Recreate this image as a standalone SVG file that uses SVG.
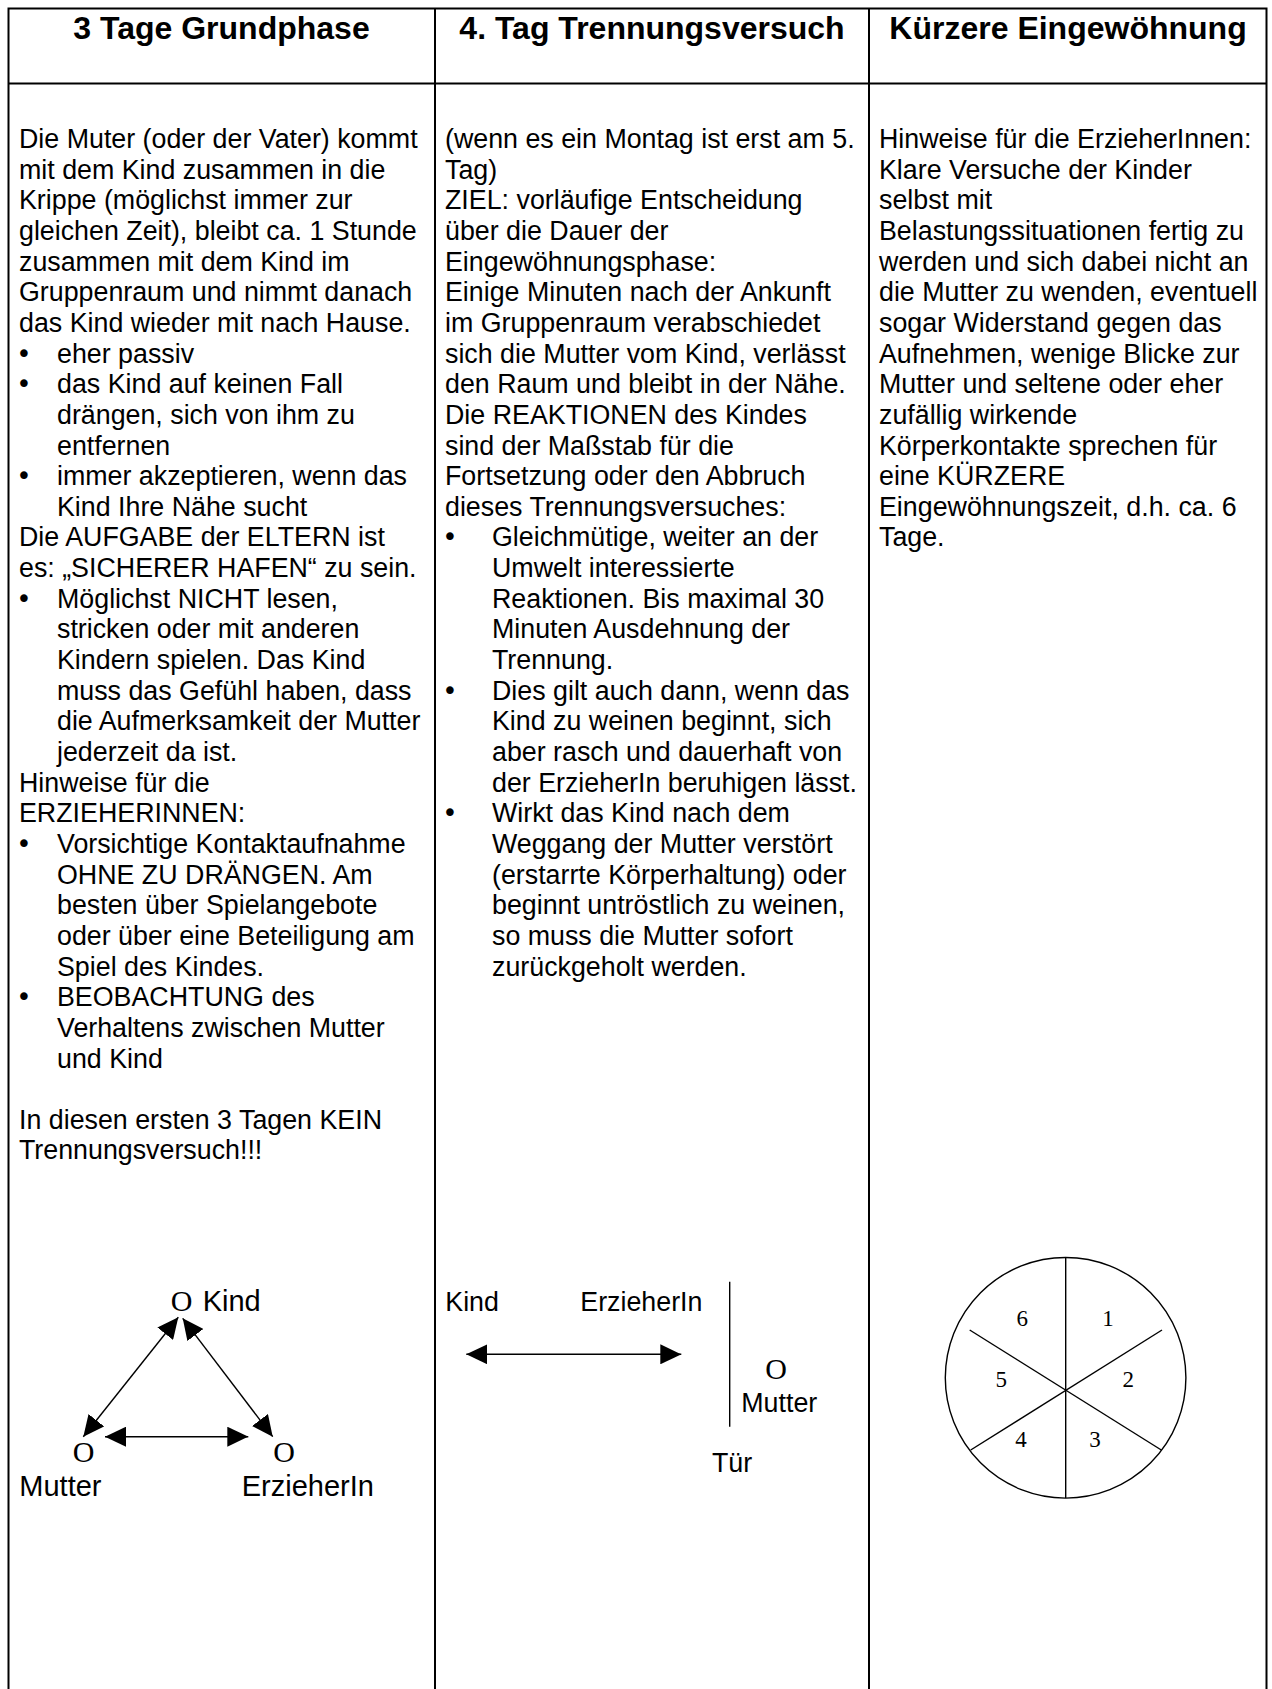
<svg xmlns="http://www.w3.org/2000/svg" width="1272" height="1689" viewBox="0 0 1272 1689">
<style>
.grid{stroke:#000;stroke-width:2;fill:none}
.t{font-family:"Liberation Sans",Arial,sans-serif;font-size:26.8px;fill:#000}
.h{font-family:"Liberation Sans",Arial,sans-serif;font-size:32px;font-weight:bold;fill:#000;text-anchor:middle}
.b{font-family:"DejaVu Sans",sans-serif;font-size:26px;fill:#000;text-anchor:middle}
.d{font-family:"Liberation Sans",Arial,sans-serif;font-size:29px;fill:#000}
.o{font-family:"Liberation Serif","Times New Roman",serif;font-size:30px;fill:#000}
.n{font-family:"Liberation Serif","Times New Roman",serif;font-size:23px;fill:#000;text-anchor:middle}
.ln{stroke:#000;stroke-width:1.4;fill:none}
</style>
<defs>
<marker id="ah" viewBox="0 0 21 20" refX="21" refY="10" markerWidth="21" markerHeight="20" markerUnits="userSpaceOnUse" orient="auto-start-reverse">
<path d="M0,0 L21,10 L0,20 z" fill="#000"/>
</marker>
</defs>
<rect width="1272" height="1689" fill="#fff"/>

<g id="table">
<path class="grid" d="M8.5,1689 V8.5 H1266.5 V1689 M435,8.5 V1689 M869,8.5 V1689 M8.5,83.5 H1266.5"/>
</g>

<g id="headers">
<text class="h" x="221.5" y="39">3 Tage Grundphase</text>
<text class="h" x="652" y="39">4. Tag Trennungsversuch</text>
<text class="h" x="1068" y="39">Kürzere Eingewöhnung</text>
</g>

<g id="col1">
<text class="t" x="19" y="148">Die Muter (oder der Vater) kommt</text>
<text class="t" x="19" y="178.65">mit dem Kind zusammen in die</text>
<text class="t" x="19" y="209.3">Krippe (möglichst immer zur</text>
<text class="t" x="19" y="239.95">gleichen Zeit), bleibt ca. 1 Stunde</text>
<text class="t" x="19" y="270.6">zusammen mit dem Kind im</text>
<text class="t" x="19" y="301.25">Gruppenraum und nimmt danach</text>
<text class="t" x="19" y="331.9">das Kind wieder mit nach Hause.</text>
<text class="b" x="24" y="362.55">•</text><text class="t" x="57" y="362.55">eher passiv</text>
<text class="b" x="24" y="393.2">•</text><text class="t" x="57" y="393.2">das Kind auf keinen Fall</text>
<text class="t" x="57" y="423.85">drängen, sich von ihm zu</text>
<text class="t" x="57" y="454.5">entfernen</text>
<text class="b" x="24" y="485.15">•</text><text class="t" x="57" y="485.15">immer akzeptieren, wenn das</text>
<text class="t" x="57" y="515.8">Kind Ihre Nähe sucht</text>
<text class="t" x="19" y="546.45">Die AUFGABE der ELTERN ist</text>
<text class="t" x="19" y="577.1">es: „SICHERER HAFEN“ zu sein.</text>
<text class="b" x="24" y="607.75">•</text><text class="t" x="57" y="607.75">Möglichst NICHT lesen,</text>
<text class="t" x="57" y="638.4">stricken oder mit anderen</text>
<text class="t" x="57" y="669.05">Kindern spielen. Das Kind</text>
<text class="t" x="57" y="699.7">muss das Gefühl haben, dass</text>
<text class="t" x="57" y="730.35">die Aufmerksamkeit der Mutter</text>
<text class="t" x="57" y="761">jederzeit da ist.</text>
<text class="t" x="19" y="791.65">Hinweise für die</text>
<text class="t" x="19" y="822.3">ERZIEHERINNEN:</text>
<text class="b" x="24" y="852.95">•</text><text class="t" x="57" y="852.95">Vorsichtige Kontaktaufnahme</text>
<text class="t" x="57" y="883.6">OHNE ZU DRÄNGEN. Am</text>
<text class="t" x="57" y="914.25">besten über Spielangebote</text>
<text class="t" x="57" y="944.9">oder über eine Beteiligung am</text>
<text class="t" x="57" y="975.55">Spiel des Kindes.</text>
<text class="b" x="24" y="1006.2">•</text><text class="t" x="57" y="1006.2">BEOBACHTUNG des</text>
<text class="t" x="57" y="1036.85">Verhaltens zwischen Mutter</text>
<text class="t" x="57" y="1067.5">und Kind</text>
<text class="t" x="19" y="1128.8">In diesen ersten 3 Tagen KEIN</text>
<text class="t" x="19" y="1159.45">Trennungsversuch!!!</text>
</g>

<g id="col2">
<text class="t" x="445" y="148">(wenn es ein Montag ist erst am 5.</text>
<text class="t" x="445" y="178.65">Tag)</text>
<text class="t" x="445" y="209.3">ZIEL: vorläufige Entscheidung</text>
<text class="t" x="445" y="239.95">über die Dauer der</text>
<text class="t" x="445" y="270.6">Eingewöhnungsphase:</text>
<text class="t" x="445" y="301.25">Einige Minuten nach der Ankunft</text>
<text class="t" x="445" y="331.9">im Gruppenraum verabschiedet</text>
<text class="t" x="445" y="362.55">sich die Mutter vom Kind, verlässt</text>
<text class="t" x="445" y="393.2">den Raum und bleibt in der Nähe.</text>
<text class="t" x="445" y="423.85">Die REAKTIONEN des Kindes</text>
<text class="t" x="445" y="454.5">sind der Maßstab für die</text>
<text class="t" x="445" y="485.15">Fortsetzung oder den Abbruch</text>
<text class="t" x="445" y="515.8">dieses Trennungsversuches:</text>
<text class="b" x="450" y="546.45">•</text><text class="t" x="492" y="546.45">Gleichmütige, weiter an der</text>
<text class="t" x="492" y="577.1">Umwelt interessierte</text>
<text class="t" x="492" y="607.75">Reaktionen. Bis maximal 30</text>
<text class="t" x="492" y="638.4">Minuten Ausdehnung der</text>
<text class="t" x="492" y="669.05">Trennung.</text>
<text class="b" x="450" y="699.7">•</text><text class="t" x="492" y="699.7">Dies gilt auch dann, wenn das</text>
<text class="t" x="492" y="730.35">Kind zu weinen beginnt, sich</text>
<text class="t" x="492" y="761">aber rasch und dauerhaft von</text>
<text class="t" x="492" y="791.65">der ErzieherIn beruhigen lässt.</text>
<text class="b" x="450" y="822.3">•</text><text class="t" x="492" y="822.3">Wirkt das Kind nach dem</text>
<text class="t" x="492" y="852.95">Weggang der Mutter verstört</text>
<text class="t" x="492" y="883.6">(erstarrte Körperhaltung) oder</text>
<text class="t" x="492" y="914.25">beginnt untröstlich zu weinen,</text>
<text class="t" x="492" y="944.9">so muss die Mutter sofort</text>
<text class="t" x="492" y="975.55">zurückgeholt werden.</text>
</g>

<g id="col3">
<text class="t" x="879" y="148">Hinweise für die ErzieherInnen:</text>
<text class="t" x="879" y="178.65">Klare Versuche der Kinder</text>
<text class="t" x="879" y="209.3">selbst mit</text>
<text class="t" x="879" y="239.95">Belastungssituationen fertig zu</text>
<text class="t" x="879" y="270.6">werden und sich dabei nicht an</text>
<text class="t" x="879" y="301.25">die Mutter zu wenden, eventuell</text>
<text class="t" x="879" y="331.9">sogar Widerstand gegen das</text>
<text class="t" x="879" y="362.55">Aufnehmen, wenige Blicke zur</text>
<text class="t" x="879" y="393.2">Mutter und seltene oder eher</text>
<text class="t" x="879" y="423.85">zufällig wirkende</text>
<text class="t" x="879" y="454.5">Körperkontakte sprechen für</text>
<text class="t" x="879" y="485.15">eine KÜRZERE</text>
<text class="t" x="879" y="515.8">Eingewöhnungszeit, d.h. ca. 6</text>
<text class="t" x="879" y="546.45">Tage.</text>
</g>

<g id="node-kind1"><text x="170.7" y="1311"><tspan class="o">O</tspan><tspan class="d" x="202.7">Kind</tspan></text></g>
<g id="node-mutter1"><text class="o" x="72.7" y="1461.7">O</text><text class="d" x="19.3" y="1496">Mutter</text></g>
<g id="node-erzieherin1"><text class="o" x="273.3" y="1461.7">O</text><text class="d" x="241.7" y="1496">ErzieherIn</text></g>

<g id="node-kind2"><text class="t" x="445.3" y="1311">Kind</text></g>
<g id="node-erzieherin2"><text class="t" x="580.3" y="1311">ErzieherIn</text></g>
<g id="node-tuer"><line class="ln" x1="729.7" y1="1281.7" x2="729.7" y2="1426.7"/><text class="t" x="712" y="1472.3">Tür</text></g>
<g id="node-mutter2"><text class="o" x="765.3" y="1379.3">O</text><text class="t" x="741.3" y="1411.7">Mutter</text></g>

<g id="node-pie">
<circle class="ln" cx="1065.6" cy="1377.8" r="120.3"/>
<line class="ln" x1="1065.7" y1="1257.5" x2="1065.7" y2="1498.1"/>
<line class="ln" x1="969.7" y1="1330" x2="1161.3" y2="1450"/>
<line class="ln" x1="1162" y1="1330" x2="970.7" y2="1450"/>
<text class="n" x="1022.2" y="1326">6</text>
<text class="n" x="1108" y="1326">1</text>
<text class="n" x="1001.3" y="1386.7">5</text>
<text class="n" x="1128.3" y="1386.7">2</text>
<text class="n" x="1021" y="1447.3">4</text>
<text class="n" x="1095" y="1447.3">3</text>
</g>

<g id="connectors">
<line class="ln" x1="178.3" y1="1317.3" x2="83.3" y2="1436.7" marker-start="url(#ah)" marker-end="url(#ah)"/>
<line class="ln" x1="182.7" y1="1318.3" x2="272.7" y2="1436.7" marker-start="url(#ah)" marker-end="url(#ah)"/>
<line class="ln" x1="105" y1="1436.7" x2="248.3" y2="1436.7" marker-start="url(#ah)" marker-end="url(#ah)"/>
<line class="ln" x1="466.3" y1="1354.3" x2="681.3" y2="1354.3" marker-start="url(#ah)" marker-end="url(#ah)"/>
</g>
</svg>
